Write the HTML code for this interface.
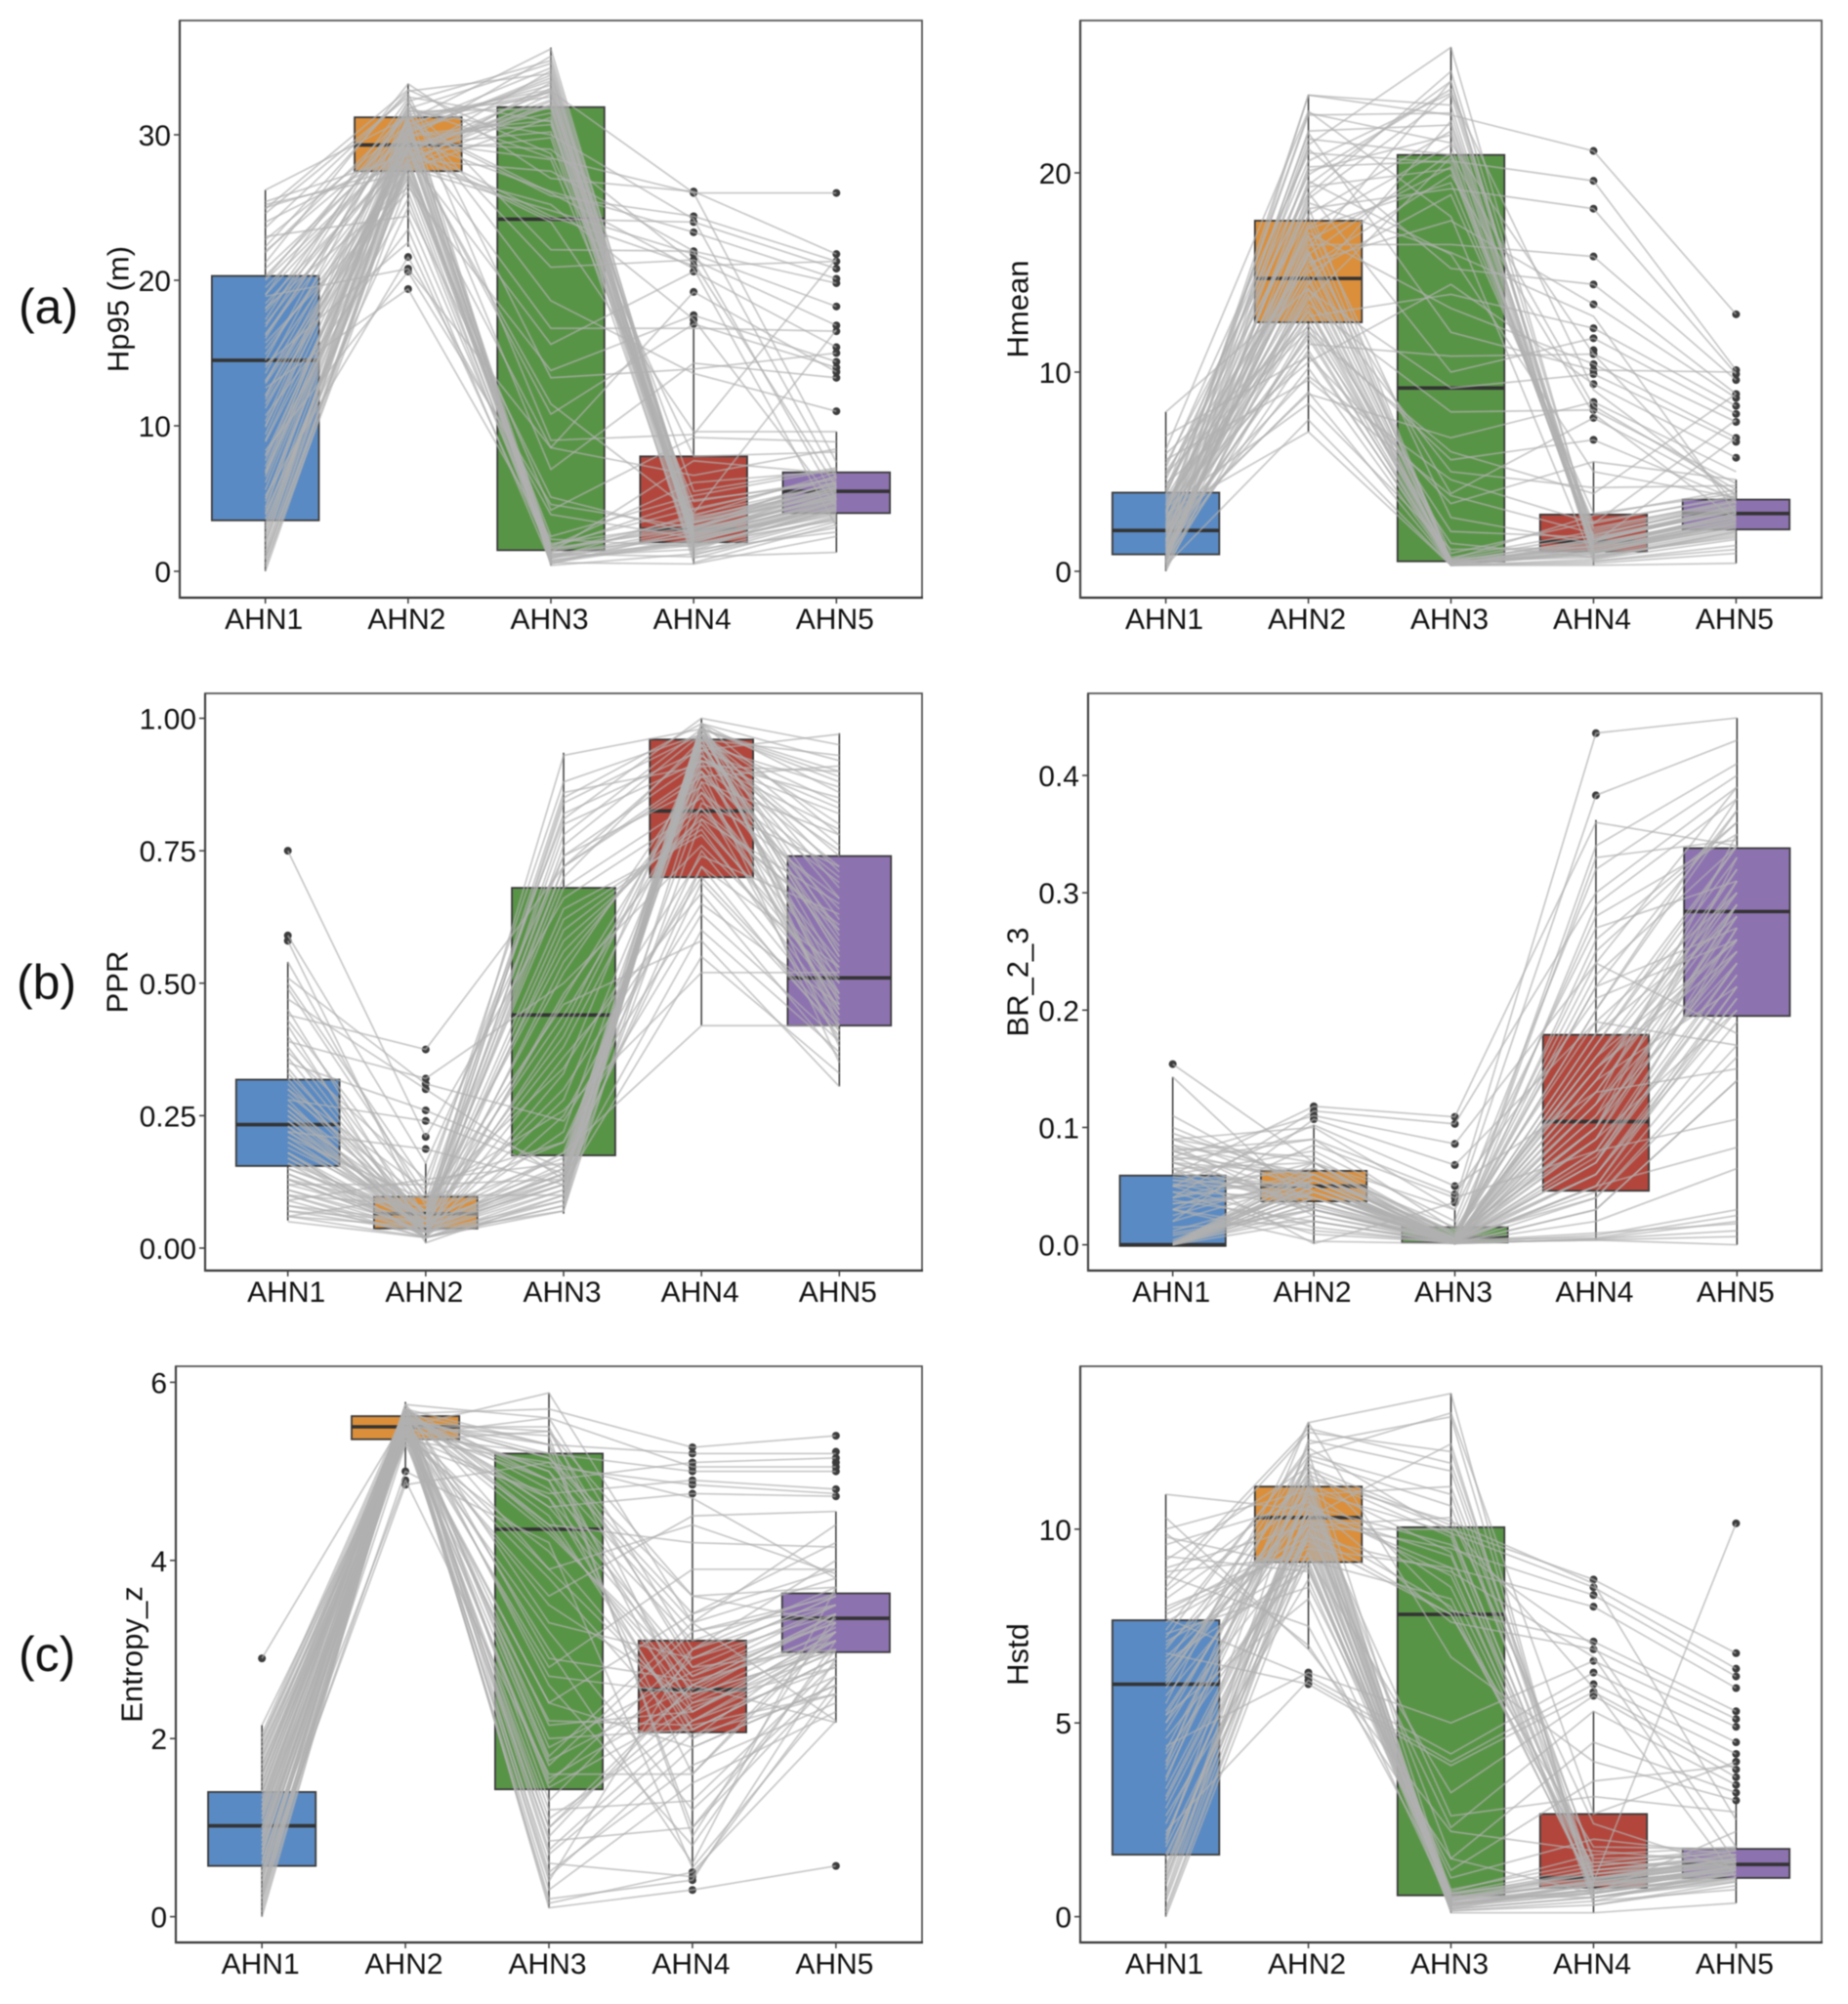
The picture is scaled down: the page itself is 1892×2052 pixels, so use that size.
<!DOCTYPE html>
<html lang="en">
<head>
<meta charset="utf-8">
<title>Boxplots of canopy metrics across AHN1 to AHN5</title>
<style>
html,body{margin:0;padding:0;background:#fff;}
#figure{display:block;width:1892px;height:2052px;font-family:"Liberation Sans",Arial,sans-serif;filter:blur(0.5px);}
</style>
</head>
<body>
<svg id="figure" xmlns="http://www.w3.org/2000/svg" width="1892" height="2052" viewBox="0 0 1892 2052">
<rect x="0" y="0" width="1892" height="2052" fill="#fff"/>
<text x="19" y="331" font-size="50" fill="#111">(a)</text>
<text x="17" y="1023" font-size="50" fill="#111">(b)</text>
<text x="19" y="1711" font-size="50" fill="#111">(c)</text>
</svg>
<script>
const categories = ["AHN1","AHN2","AHN3","AHN4","AHN5"];
const boxColors = ["#5a8ac3","#dc8f3a","#589446","#b2463c","#8d72b0"];

/* ---------- Hp95 ---------- */
const hp95Ticks = [0,10,20,30];
const hp95TickLabels = ["0","10","20","30"];
const hp95Q1 = [3.5,27.5,1.45,2.0,4.0];
const hp95Median = [14.5,29.3,24.2,2.9,5.5];
const hp95Q3 = [20.3,31.2,31.9,7.9,6.8];
const hp95WhiskerLow = [0,22.3,0.4,0.5,1.3];
const hp95WhiskerHigh = [26.2,33.5,36,16.7,9.6];
const hp95Outliers = [[],[19.4,20.6,20.8,21.6],[],[17,17.3,17.6,19.2,20.6,21,21.4,21.8,22,23.3,24,24.4,26,26.1],[11,13.3,13.7,14,14.4,15,15.4,16.5,16.9,18.2,19.8,20.1,20.8,21.3,21.8,26]];
const hp95Profiles = [
[0.3,28.5,33.2,2.6,5.1],[1.2,29.4,31.5,2.1,4.4],[2.4,30.6,34.6,3.3,5.8],[3.1,28.1,32.8,1.8,4.1],[4.4,31.0,35.9,2.9,6.2],
[5.6,29.9,30.7,2.4,5.3],[7.2,30.2,33.9,3.6,6.0],[8.9,27.8,32.1,2.0,4.7],[10.3,31.8,34.9,1.4,4.9],[12.1,29.0,31.9,4.2,6.5],
[14.5,32.3,35.1,2.7,5.5],[16.2,30.8,33.4,3.0,6.6],[18.4,28.7,29.8,1.1,3.7],[20.1,31.4,32.6,2.3,5.0],[22.3,33.0,34.2,3.8,6.8],
[24.6,32.6,30.9,2.6,5.7],[26.2,31.2,33.1,1.6,4.3],[19.5,29.6,28.3,4.8,6.3],[15.3,27.6,31.2,0.6,3.2],[11.2,28.9,32.4,5.5,7.1],
[6.5,30.1,34.1,3.4,5.2],[2.9,29.3,30.2,2.2,4.6],[0.8,27.9,33.6,1.9,3.9],[1.7,31.6,31.8,0.9,3.4],
[0.0,28.0,1.2,2.4,4.8],[0.5,26.8,0.8,1.8,4.0],[1.4,29.5,1.5,3.1,5.4],[2.1,30.4,0.6,2.0,4.5],[3.3,28.4,1.1,2.9,5.9],
[3.9,27.2,1.8,4.3,6.4],[4.8,31.2,0.4,1.2,3.0],[6.1,29.8,1.4,3.7,5.6],[7.9,25.6,0.9,2.5,5.2],[9.4,30.9,1.7,6.1,6.9],
[11.8,28.3,1.0,1.5,2.7],[13.6,32.0,0.5,2.8,5.0],[15.7,26.1,1.3,7.6,6.7],[17.8,29.1,1.9,3.3,5.7],[20.3,30.3,0.7,2.1,4.2],
[23.0,24.4,1.6,4.9,6.1],[25.2,27.4,2.4,5.2,7.0],[14.2,22.6,1.2,1.0,1.3],[10.7,23.5,0.6,0.5,2.4],[5.2,21.6,3.9,2.3,4.4],
[8.3,20.6,4.6,3.0,5.5],[12.6,19.4,2.2,1.7,3.6],[4.0,25.0,5.1,2.6,4.7],[18.9,20.8,8.5,6.6,8.4],
[16.8,31.9,28.4,26.0,26.0],[21.2,33.5,27.0,26.1,21.8],[22.8,30.7,25.8,24.4,21.3],[24.0,28.9,24.2,24.0,20.8],[19.0,29.7,26.1,23.3,20.1],
[17.3,32.2,22.1,22.0,19.8],[13.1,27.7,24.8,21.8,18.2],[9.9,31.3,20.9,21.4,16.9],[20.8,30.0,16.7,16.7,16.5],[25.4,28.6,15.6,20.6,15.4],
[23.6,32.8,13.3,13.9,15.0],[18.1,26.4,13.8,17.6,14.4],[14.9,29.2,10.8,17.0,14.0],[11.5,27.3,8.5,19.2,13.7],[7.6,30.5,7.0,14.3,13.3],
[21.9,31.5,18.6,13.6,11.0],[16.3,28.8,24.0,9.6,9.6],[12.9,27.0,4.2,9.2,8.9],[6.8,29.3,24.4,21.0,21.3],[24.9,33.1,28.7,7.9,8.2],
[1.0,28.2,32.3,2.4,4.9],[2.0,29.0,33.0,2.8,5.2],[3.6,30.0,31.0,3.1,5.6],[5.0,28.6,34.4,1.7,4.2],[6.9,31.1,32.9,2.2,4.8],
[9.0,29.7,35.4,3.5,6.1],[13.0,30.4,33.7,2.5,5.3],[17.0,29.2,32.0,1.3,3.8],[0.9,27.7,1.0,2.7,5.1],[2.6,29.1,0.7,2.2,4.3],
[4.2,30.7,1.3,3.4,5.8],[6.7,28.0,1.6,2.9,5.0],[10.0,29.4,0.9,3.9,6.0],[16.0,31.0,1.1,1.9,3.5],
[22.0,30.3,33.0,26.0,7.5],[18.0,31.7,30.0,24.2,6.4],[14.0,28.3,27.5,22.0,4.9],[20.0,29.5,29.0,21.2,5.8],[12.0,30.9,26.0,20.8,3.1],
[25.0,27.9,25.2,17.3,4.5],[8.0,29.1,11.5,4.0,16.6],[19.0,32.5,9.0,9.4,21.5]
];

/* ---------- Hmean ---------- */
const hmeanTicks = [0,10,20];
const hmeanTickLabels = ["0","10","20"];
const hmeanQ1 = [0.85,12.5,0.5,1.0,2.1];
const hmeanMedian = [2.05,14.7,9.2,1.5,2.9];
const hmeanQ3 = [3.95,17.6,20.9,2.85,3.6];
const hmeanWhiskerLow = [0,7,0.3,0.3,0.4];
const hmeanWhiskerHigh = [8,23.9,26.3,5.5,4.6];
const hmeanOutliers = [[],[],[],[6.6,7.7,8.1,8.3,8.5,9.4,9.9,10.1,10.4,10.9,11.1,11.7,12.2,13.4,14.4,15.8,18.2,19.6,21.1],[5.7,6.5,6.7,7.5,7.9,8.3,8.7,8.9,9.6,9.9,10.1,12.9]];
const hmeanProfiles = [
[0.0,14.6,0.4,1.2,2.9],[0.2,12.4,0.3,0.9,2.2],[0.4,16.8,0.5,1.5,3.1],[0.6,11.1,0.3,1.0,2.4],[0.7,13.3,0.4,1.3,2.7],
[0.9,15.2,0.6,1.8,3.4],[1.1,10.2,0.3,0.5,1.3],[1.3,13.9,0.4,1.1,2.6],[1.5,17.5,0.5,1.6,3.0],[1.7,12.7,0.7,2.0,3.5],
[1.9,9.0,0.3,0.4,0.9],[2.0,14.8,0.4,1.4,2.8],[2.3,11.7,0.5,0.8,2.1],[2.6,16.1,0.9,2.5,3.7],[2.9,7.0,0.3,0.6,1.6],
[3.2,8.4,1.1,1.2,2.3],[3.5,13.0,2.0,1.7,3.2],[3.9,18.3,0.4,1.0,2.5],[4.3,15.7,0.6,2.8,4.1],[4.9,12.1,1.4,0.7,1.9],
[5.6,9.6,3.8,1.9,3.3],[6.8,10.8,3.4,5.5,4.6],[8.0,14.2,5.0,4.2,4.3],[0.3,7.6,0.3,0.3,0.4],
[0.1,17.9,22.1,1.3,2.9],[0.5,19.4,24.6,0.9,2.4],[0.8,21.4,26.3,1.6,3.3],[1.0,15.9,21.0,1.1,2.6],[1.4,23.9,23.4,0.6,2.0],
[1.6,16.6,20.3,2.1,3.6],[1.8,18.7,23.9,1.4,2.7],[2.2,20.1,21.9,1.0,2.2],[2.5,14.4,22.6,1.7,3.0],[2.8,22.9,23.0,0.8,1.7],
[3.1,17.2,19.5,2.4,3.8],[3.4,13.6,20.8,1.2,2.8],[3.7,15.0,18.9,2.9,3.9],[4.6,19.9,24.2,1.5,3.2],[5.2,21.0,20.5,2.2,3.5],
[6.1,23.1,17.8,0.5,1.1],
[2.4,23.9,22.9,21.1,12.9],[1.2,20.3,20.6,19.6,10.1],[3.0,18.2,19.2,18.2,9.9],[0.7,16.4,16.4,15.8,9.6],[4.1,21.2,15.2,14.4,8.9],
[1.9,15.5,17.6,13.4,8.7],[2.7,12.8,13.9,12.2,8.3],[5.4,19.0,10.0,11.7,7.9],[1.6,11.4,10.8,10.9,7.5],[3.3,17.0,13.2,10.4,6.7],
[0.9,14.1,9.2,9.9,6.5],[4.4,10.5,14.4,9.4,5.7],[2.1,8.9,6.7,8.5,5.0],[3.6,13.4,8.0,8.1,4.4],[1.1,16.0,3.9,7.7,3.9],
[5.9,12.3,5.6,6.6,3.6],[2.3,22.0,12.0,10.1,10.0],[0.6,19.6,15.9,5.0,3.7],
[0.3,13.8,0.4,1.0,2.5],[0.8,15.9,0.5,1.6,3.1],[1.2,11.9,0.3,0.9,2.3],[1.6,14.2,0.4,1.3,2.9],[2.1,16.9,0.6,1.1,2.6],
[2.7,13.1,0.3,1.5,3.3],[3.3,10.9,0.5,0.7,1.8],[0.5,17.3,21.4,1.0,2.4],[1.3,18.9,25.1,1.8,3.5],[2.0,22.1,22.4,1.2,2.7],
[3.0,16.2,24.6,0.7,2.0],[4.0,19.3,20.2,1.6,3.1],
[1.5,21.7,20.9,8.3,4.1],[2.9,23.0,21.5,10.9,3.4],[0.4,18.5,16.0,12.8,2.9],[3.8,20.6,24.0,9.1,3.8],[5.0,15.3,19.9,7.9,2.6],
[1.0,12.0,6.0,3.9,8.9],[2.2,9.8,4.6,2.4,7.6],[4.8,17.8,2.7,1.4,6.7]
];

/* ---------- PPR ---------- */
const pprTicks = [0,0.25,0.5,0.75,1];
const pprTickLabels = ["0.00","0.25","0.50","0.75","1.00"];
const pprQ1 = [0.155,0.037,0.175,0.70,0.42];
const pprMedian = [0.233,0.065,0.44,0.825,0.51];
const pprQ3 = [0.318,0.097,0.68,0.96,0.74];
const pprWhiskerLow = [0.052,0.01,0.065,0.42,0.305];
const pprWhiskerHigh = [0.54,0.16,0.935,1.0,0.972];
const pprOutliers = [[0.58,0.59,0.75],[0.187,0.21,0.24,0.26,0.30,0.31,0.32,0.375],[],[],[]];
const pprProfiles = [
[.05,.02,.07,.99,.92],[.07,.03,.09,.98,.88],[.09,.02,.10,.97,.80],[.11,.04,.12,.99,.86],[.13,.03,.13,.96,.74],
[.15,.05,.14,.98,.62],[.17,.02,.11,.97,.55],[.19,.06,.15,.95,.50],[.21,.04,.16,.99,.42],[.23,.03,.12,.96,.48],
[.25,.07,.17,.94,.38],[.28,.02,.08,.98,.46],[.31,.05,.14,.92,.44],[.34,.03,.18,.90,.35],[.38,.04,.13,.97,.52],[.42,.01,.10,.95,.58],
[.06,.04,.22,.94,.97],[.08,.03,.28,.91,.90],[.10,.02,.33,.96,.84],[.12,.05,.38,.88,.78],[.14,.03,.42,.93,.72],
[.16,.06,.44,.86,.66],[.18,.02,.48,.82,.61],[.20,.04,.52,.90,.57],[.22,.07,.56,.83,.53],[.24,.03,.60,.80,.51],
[.26,.05,.64,.78,.47],[.29,.09,.20,.75,.43],[.32,.02,.25,.72,.40],[.36,.04,.30,.70,.42],[.40,.06,.68,.85,.39],
[.45,.03,.36,.67,.36],[.54,.08,.46,.58,.305],[.49,.10,.26,.52,.52],[.58,.05,.18,.42,.42],
[.08,.05,.70,.96,.93],[.10,.08,.74,.92,.85],[.13,.03,.76,.97,.76],[.15,.06,.78,.98,.68],[.18,.04,.72,.89,.91],
[.21,.09,.82,.94,.83],[.24,.05,.85,.99,.59],[.27,.07,.86,.91,.70],[.30,.11,.88,.97,.55],[.33,.06,.93,.98,.89],
[.37,.13,.81,1.0,.95],[.59,.16,.74,.87,.45],[.75,.21,.66,.83,.60],
[.44,.375,.72,.90,.64],[.39,.32,.50,.76,.50],[.51,.31,.24,.65,.46],[.47,.30,.13,.60,.37],[.35,.26,.15,.69,.41],
[.28,.24,.14,.72,.53],[.22,.187,.12,.55,.33],[.12,.12,.13,.84,.72],[.06,.10,.10,.81,.65],[.09,.13,.16,.93,.75],
[.06,.02,.08,.98,.90],[.10,.03,.11,.99,.78],[.14,.04,.14,.97,.66],[.18,.02,.09,.98,.56],[.22,.05,.13,.96,.47],
[.26,.03,.15,.99,.41],[.30,.04,.12,.95,.60],[.07,.05,.40,.92,.82],[.11,.03,.47,.89,.69],[.16,.02,.54,.86,.54],
[.20,.06,.58,.81,.48],[.25,.04,.62,.79,.44],[.13,.07,.72,.95,.87],[.17,.04,.80,.92,.79],[.23,.06,.84,.97,.71],
[.43,.09,.34,.74,.63],[.50,.12,.20,.63,.39],[.27,.03,.07,.88,.45]
];

/* ---------- BR_2_3 ---------- */
const brTicks = [0,0.1,0.2,0.3,0.4];
const brTickLabels = ["0.0","0.1","0.2","0.3","0.4"];
const brQ1 = [-0.001,0.037,0.002,0.046,0.195];
const brMedian = [0.0,0.05,0.006,0.105,0.284];
const brQ3 = [0.059,0.063,0.015,0.179,0.338];
const brWhiskerLow = [0,0.001,0,0.004,0];
const brWhiskerHigh = [0.143,0.102,0.03,0.362,0.449];
const brOutliers = [[0.154],[0.107,0.11,0.114,0.118],[0.036,0.04,0.043,0.05,0.068,0.086,0.103,0.109],[0.383,0.436],[]];
const brProfiles = [
[0,.05,.003,.10,.28],[0,.04,.002,.05,.22],[0,.06,.004,.14,.31],[0,.03,.002,.08,.26],[0,.055,.003,.18,.34],
[0,.045,.001,.12,.25],[0,.035,.005,.06,.20],[0,.065,.006,.16,.30],[0,.02,.001,.04,.17],[0,.05,.002,.09,.27],
[0,.07,.008,.22,.37],[0,.04,.003,.11,.24],[.001,.025,.001,.03,.14],[.002,.06,.004,.13,.29],[.004,.05,.003,.07,.23],
[.008,.03,.002,.17,.33],[.012,.045,.007,.20,.38],[.02,.055,.012,.15,.26],[.03,.012,.002,.004,.007],[.035,.05,.003,.10,.29],
[.038,.02,.001,.005,.02],[.04,.06,.010,.25,.36],[.045,.04,.004,.045,.19],[.05,.065,.015,.28,.35],[.052,.03,.002,.008,.03],
[.055,.05,.006,.12,.28],[.06,.08,.020,.32,.40],[.065,.07,.004,.16,.32],[.07,.04,.003,.06,.21],[.072,.09,.013,.19,.30],
[.075,.03,.001,.005,.012],[.08,.05,.005,.23,.34],[.082,.075,.008,.10,.25],[.085,.06,.003,.14,.22],[.09,.10,.030,.27,.31],
[.095,.055,.002,.07,.24],[.11,.045,.006,.04,.16],[.143,.03,.004,.006,.025],[.154,.07,.010,.09,.20],
[.06,.118,.109,.36,.34],[.04,.114,.103,.30,.39],[.075,.11,.086,.24,.18],[.02,.107,.068,.19,.17],[.05,.102,.05,.13,.15],
[.08,.09,.043,.21,.26],[.03,.085,.04,.08,.107],[.065,.001,.036,.436,.449],[.09,.07,.03,.383,.43],[.10,.05,.001,.34,.41],
[.07,.033,.002,.29,.38],[.058,.04,.003,.26,.36],[.03,.003,.001,.05,.083],[.045,.009,.002,.004,.0],[.015,.02,.002,.02,.065],
[.05,.015,.001,.03,.14],[.085,.025,.003,.01,.018],[.025,.06,.005,.15,.29],[.035,.045,.002,.075,.23],
[0,.05,.002,.13,.30],[0,.045,.003,.07,.27],[0,.055,.001,.10,.33],[0,.035,.002,.15,.25],[0,.06,.004,.09,.29],
[.001,.04,.002,.12,.35],[.002,.05,.003,.18,.28],[.01,.03,.001,.06,.22],[.06,.05,.004,.11,.31],[.07,.06,.002,.16,.26],
[.08,.04,.003,.08,.24],[.05,.05,.006,.20,.37],[.04,.07,.002,.14,.32],[.09,.045,.005,.22,.27],[.065,.03,.003,.05,.21],
[.03,.055,.002,.17,.34],[.075,.06,.008,.24,.39],[.055,.04,.001,.33,.345]
];

/* ---------- Entropy_z ---------- */
const entropyTicks = [0,2,4,6];
const entropyTickLabels = ["0","2","4","6"];
const entropyQ1 = [0.57,5.36,1.43,2.07,2.97];
const entropyMedian = [1.02,5.5,4.35,2.55,3.35];
const entropyQ3 = [1.4,5.62,5.2,3.1,3.63];
const entropyWhiskerLow = [0,5.0,0.1,0.55,2.18];
const entropyWhiskerHigh = [2.15,5.78,5.88,4.7,4.55];
const entropyOutliers = [[2.9],[4.85,4.9,5.0],[],[0.3,0.41,0.45,0.5,4.75,4.85,4.9,5.0,5.05,5.1,5.2,5.27],[0.57,4.72,4.8,5.0,5.05,5.1,5.15,5.22,5.4]];
const entropyProfiles = [
[0,5.6,4.9,2.5,3.4],[.1,5.7,5.3,2.9,3.6],[.2,5.5,5.5,2.3,3.2],[.3,5.65,4.6,2.7,3.3],[.4,5.75,5.6,3.0,3.7],
[.5,5.4,5.2,2.1,2.9],[.55,5.6,5.0,2.6,3.4],[.6,5.5,5.88,3.3,3.8],[.7,5.7,4.4,2.4,3.1],[.75,5.35,4.1,2.2,3.0],
[.8,5.55,5.45,2.8,3.5],[.85,5.65,4.8,3.1,3.63],[.9,5.45,3.8,2.0,2.7],[.95,5.7,4.35,2.55,3.35],[1.0,5.5,3.5,2.45,3.25],
[1.05,5.6,5.15,3.4,3.9],[1.1,5.75,2.9,2.65,3.1],[1.15,5.4,2.4,1.9,2.6],[1.2,5.55,2.15,2.3,3.2],[1.25,5.65,1.9,2.75,3.3],
[1.3,5.5,1.7,3.2,3.5],[1.35,5.45,1.55,2.5,3.0],[1.4,5.6,1.45,2.35,2.97],[1.45,5.7,1.3,2.9,3.6],[1.5,5.5,1.1,2.2,2.8],
[1.55,5.35,.9,2.6,3.4],[1.6,5.6,.7,2.05,2.5],[1.65,5.7,.5,1.7,2.4],[1.7,5.45,.3,1.5,2.3],[1.75,5.55,.15,.5,2.2],
[1.8,5.65,.1,.3,.57],[1.85,5.5,.2,.41,2.9],[1.9,5.4,.6,.45,2.6],[1.95,5.6,.85,1.0,3.0],[2.0,5.5,1.2,1.3,2.85],
[2.05,5.7,2.6,.8,3.1],[2.15,5.45,3.2,1.2,2.7],[2.9,5.6,4.7,2.0,3.2],[.35,5.0,4.2,.55,2.5],[.65,4.9,1.6,1.6,3.3],[.45,4.85,5.1,4.7,3.8],
[.25,5.65,5.7,5.27,5.4],[.5,5.55,5.3,5.2,5.2],[.8,5.7,4.9,5.1,5.15],[1.1,5.4,5.6,5.05,5.05],[1.4,5.6,5.2,5.0,5.0],
[1.7,5.3,4.75,4.9,4.8],[.9,5.5,5.05,4.85,4.75],[1.25,5.7,4.6,4.75,4.72],[.6,5.45,3.6,4.5,4.55],[1.5,5.6,4.4,4.2,4.15],
[.95,5.5,2.8,3.9,3.9],[1.8,5.35,5.45,3.6,3.7],[.15,5.65,1.8,3.3,4.4],[1.2,5.75,3.9,4.4,3.85],[.7,5.55,.4,3.0,4.0],
[1.6,5.4,1.0,2.6,2.18],[.4,5.3,2.2,2.15,2.5],
[.05,5.6,4.3,2.7,3.5],[.25,5.5,3.9,2.3,3.1],[.45,5.7,3.3,2.9,3.4],[.7,5.6,2.7,2.5,3.0],[.85,5.5,2.0,2.1,2.9],
[1.0,5.65,1.75,2.6,3.2],[1.2,5.45,1.5,3.0,3.5],[1.4,5.6,1.0,2.4,2.8],[1.6,5.7,.75,2.2,3.1],[1.9,5.5,.45,1.9,2.6],
[.3,5.6,5.15,3.6,3.3],[.6,5.55,5.0,3.2,3.6],[.9,5.4,4.7,2.8,3.0],[1.3,5.7,4.5,2.1,2.9],[1.6,5.5,4.9,1.6,3.2],
[2.0,5.65,5.3,1.0,2.7],[.2,5.5,5.4,.9,3.4],[.5,5.6,3.0,.6,3.7],[1.15,5.35,5.1,3.3,2.2],[.75,5.45,2.4,3.4,4.2]
];

/* ---------- Hstd ---------- */
const hstdTicks = [0,5,10];
const hstdTickLabels = ["0","5","10"];
const hstdQ1 = [1.6,9.15,0.55,0.75,1.0];
const hstdMedian = [6.0,10.3,7.8,1.0,1.35];
const hstdQ3 = [7.65,11.1,10.05,2.65,1.75];
const hstdWhiskerLow = [0,6.9,0.1,0.1,0.35];
const hstdWhiskerHigh = [10.9,12.75,13.5,5.3,3.0];
const hstdOutliers = [[],[6.0,6.1,6.2,6.3],[],[5.7,5.8,6.0,6.3,6.6,6.9,7.1,8.0,8.3,8.5,8.7],[3.0,3.2,3.4,3.6,3.8,4.0,4.2,4.5,4.9,5.1,5.3,5.9,6.2,6.4,6.8,10.15]];
const hstdProfiles = [
[0,9.5,.3,.7,1.2],[.4,10.2,.5,.9,1.4],[.8,11.0,.2,.5,1.0],[1.0,9.8,.4,.8,1.3],[1.3,10.5,.6,1.1,1.6],
[1.6,9.2,.15,.4,.7],[2.0,10.9,.35,.8,1.2],[2.6,8.7,.5,1.0,1.5],[3.1,10.3,.25,.6,1.1],[3.6,11.3,.45,.9,1.35],
[4.2,9.4,.6,1.3,1.7],[4.8,10.7,.1,.1,.35],[5.2,8.2,.3,.7,1.3],[5.7,10.1,.7,1.4,1.75],[6.1,11.6,.2,.5,.9],
[6.6,9.0,.5,.85,1.25],[7.0,10.4,.35,.65,1.0],[7.4,12.0,.55,1.2,1.5],[7.8,9.6,.15,.3,.8],[8.2,10.8,.4,.95,1.4],
[8.8,7.5,.65,1.6,1.8],[9.3,8.9,1.0,2.0,1.6],[9.9,7.0,1.5,.6,1.1],[10.3,6.9,2.2,1.7,1.4],
[.2,10.0,10.0,.8,1.3],[.6,11.2,9.4,.6,1.1],[1.2,10.6,8.8,1.0,1.5],[1.9,12.3,11.5,.9,1.35],[2.4,9.9,7.8,1.3,1.7],
[3.3,10.3,12.2,.5,1.0],[4.0,11.8,10.6,1.1,1.4],[4.6,9.2,8.2,.7,1.2],[5.5,12.75,13.5,.3,.9],[6.3,10.9,11.1,1.5,1.6],
[6.9,11.4,9.8,.4,1.2],[7.6,9.7,7.8,1.8,1.75],[8.5,12.5,12.0,1.0,1.3],[9.0,10.1,10.3,2.4,1.2],[10.0,11.0,8.5,.95,1.5],[10.9,10.5,9.0,.6,2.2],
[5.0,11.5,10.0,8.7,6.8],[7.2,12.1,9.9,8.5,6.4],[3.0,10.2,9.5,8.3,6.2],[8.0,9.5,9.0,8.0,5.9],[6.0,11.7,7.9,7.1,5.3],
[9.6,10.7,7.6,6.9,5.1],[4.4,6.3,5.0,6.6,4.9],[7.7,6.2,4.2,6.3,4.5],[2.2,6.1,4.0,6.0,4.2],[6.8,6.0,3.9,5.8,3.8],
[8.9,9.3,3.2,5.7,3.6],[1.5,10.0,2.3,5.3,3.4],[5.9,11.1,1.5,4.5,3.2],[3.9,12.75,6.7,4.0,3.0],[9.8,9.0,.45,.9,10.15],
[7.3,8.5,1.2,3.5,3.9],[5.3,10.8,2.6,3.1,2.7],[6.5,11.9,13.0,2.65,4.0],
[.1,9.9,.3,.8,1.1],[.5,10.6,.45,.6,1.3],[1.1,11.1,.25,.9,1.2],[1.8,9.4,.5,1.1,1.45],[2.8,10.0,.35,.7,1.0],
[3.8,11.4,.4,1.2,1.55],[5.0,9.7,.55,.5,.95],[6.4,10.4,.2,.85,1.25],[7.1,9.1,.6,1.0,1.4],[8.4,11.2,.3,.6,1.15],
[.9,11.9,10.9,.7,1.3],[2.1,10.5,9.3,1.2,1.6],[3.5,12.2,12.9,.5,1.1],[5.2,11.0,9.9,1.0,1.45],[6.7,10.1,8.0,.8,1.2],[8.7,12.6,11.7,1.4,1.3],
[4.3,11.3,10.2,8.6,2.5],[6.2,10.6,9.6,7.0,1.8],[7.9,9.8,8.9,6.7,1.4],[9.2,11.6,10.1,5.9,1.0]
];

/* ---------- Panel layout (frame in pixels; y-axis mapped through two anchors) ---------- */
const panels = [
 {id:"hp95", title:"Hp95 (m)", titleX:121, left:184, right:944, top:21, bottom:612, v0:0, y0:585, v1:30, y1:138,
  ticks:hp95Ticks, tickLabels:hp95TickLabels, q1:hp95Q1, median:hp95Median, q3:hp95Q3, low:hp95WhiskerLow, high:hp95WhiskerHigh, outliers:hp95Outliers, profiles:hp95Profiles},
 {id:"hmean", title:"Hmean", titleX:1042, left:1106, right:1865, top:21, bottom:612, v0:0, y0:585, v1:20, y1:177,
  ticks:hmeanTicks, tickLabels:hmeanTickLabels, q1:hmeanQ1, median:hmeanMedian, q3:hmeanQ3, low:hmeanWhiskerLow, high:hmeanWhiskerHigh, outliers:hmeanOutliers, profiles:hmeanProfiles},
 {id:"ppr", title:"PPR", titleX:120, left:210, right:944, top:710, bottom:1301, v0:0, y0:1278, v1:1, y1:735.5,
  ticks:pprTicks, tickLabels:pprTickLabels, q1:pprQ1, median:pprMedian, q3:pprQ3, low:pprWhiskerLow, high:pprWhiskerHigh, outliers:pprOutliers, profiles:pprProfiles},
 {id:"br23", title:"BR_2_3", titleX:1042, left:1114, right:1865, top:710, bottom:1301, v0:0, y0:1274.6, v1:0.4, y1:794,
  ticks:brTicks, tickLabels:brTickLabels, q1:brQ1, median:brMedian, q3:brQ3, low:brWhiskerLow, high:brWhiskerHigh, outliers:brOutliers, profiles:brProfiles},
 {id:"entropy", title:"Entropy_z", titleX:135, left:180, right:944, top:1399, bottom:1989, v0:0, y0:1962.6, v1:6, y1:1415.4,
  ticks:entropyTicks, tickLabels:entropyTickLabels, q1:entropyQ1, median:entropyMedian, q3:entropyQ3, low:entropyWhiskerLow, high:entropyWhiskerHigh, outliers:entropyOutliers, profiles:entropyProfiles},
 {id:"hstd", title:"Hstd", titleX:1042, left:1106, right:1865, top:1399, bottom:1989, v0:0, y0:1962.6, v1:10, y1:1565.8,
  ticks:hstdTicks, tickLabels:hstdTickLabels, q1:hstdQ1, median:hstdMedian, q3:hstdQ3, low:hstdWhiskerLow, high:hstdWhiskerHigh, outliers:hstdOutliers, profiles:hstdProfiles}
];

const NS = "http://www.w3.org/2000/svg";
const root = document.getElementById("figure");

function make(tag, attrs, parent){
  const node = document.createElementNS(NS, tag);
  for (const k in attrs) node.setAttribute(k, attrs[k]);
  parent.appendChild(node);
  return node;
}

function drawPanel(p){
  const band = (p.right - p.left) / 5.2;
  const boxW = band * 0.75;
  const xScale = i => p.left + (0.6 + i) * band;
  const yScale = v => p.y0 + (v - p.v0) * (p.y1 - p.y0) / (p.v1 - p.v0);

  const g = make("g", {}, root);
  
  

  const bg = make("rect", {x:p.left, y:p.top, width:p.right-p.left, height:p.bottom-p.top, fill:"#fff"}, g);
  
  

  categories.forEach((cat, i) => {
    const x = xScale(i);
    const whisker = make("line", {x1:x, x2:x, y1:yScale(p.low[i]), y2:yScale(p.high[i]), stroke:"#444", "stroke-width":1.6}, g);
    
    

    const yTop = yScale(p.q3[i]);
    const yBottom = yScale(p.q1[i]);
    const box = make("rect", {x:x-boxW/2, y:yTop, width:boxW, height:yBottom-yTop, fill:boxColors[i], stroke:"#3a3a3a", "stroke-width":1.8}, g);
    
    

    const med = make("line", {x1:x-boxW/2, x2:x+boxW/2, y1:yScale(p.median[i]), y2:yScale(p.median[i]), stroke:"#333", "stroke-width":3.6}, g);
    
    

    p.outliers[i].forEach(v => {
      const dot = make("circle", {cx:x, cy:yScale(v), r:4, fill:"#3c3c3c"}, g);
      
      
    });
  });

  p.profiles.forEach(row => {
    const pts = row.map((v, i) => xScale(i).toFixed(1) + "," + yScale(v).toFixed(1)).join(" ");
    const line = make("polyline", {points:pts, fill:"none", stroke:"#b0b0b0", "stroke-opacity":0.66, "stroke-width":1.8, "stroke-linejoin":"round"}, g);
    
    
  });

  const frame = make("rect", {x:p.left, y:p.top, width:p.right-p.left, height:p.bottom-p.top, fill:"none", stroke:"#555", "stroke-width":1.8}, g);
  
  

  const xAxis = make("line", {x1:p.left-1, x2:p.right+1, y1:p.bottom, y2:p.bottom, stroke:"#333", "stroke-width":2.2}, g);
  
  

  const yAxis = make("line", {x1:p.left, x2:p.left, y1:p.top, y2:p.bottom+1, stroke:"#444", "stroke-width":2.2}, g);
  
  

  categories.forEach((cat, i) => {
    const x = xScale(i);
    const tick = make("line", {x1:x, x2:x, y1:p.bottom, y2:p.bottom+6, stroke:"#444", "stroke-width":1.6}, g);
    
    

    const label = make("text", {x:x-1.5, y:p.bottom+32, "text-anchor":"middle", "font-size":30, fill:"#111"}, g);
    label.textContent = cat;
    
    
  });

  p.ticks.forEach((v, i) => {
    const y = yScale(v);
    const tick = make("line", {x1:p.left-6, x2:p.left, y1:y, y2:y, stroke:"#444", "stroke-width":1.6}, g);
    
    

    const label = make("text", {x:p.left-9, y:y+11, "text-anchor":"end", "font-size":30, fill:"#111"}, g);
    label.textContent = p.tickLabels[i];
    
    
  });

  const cy = (p.top + p.bottom) / 2;
  const title = make("text", {x:p.titleX, y:cy, "text-anchor":"middle", "font-size":31, fill:"#111", transform:"rotate(-90 " + p.titleX + " " + cy + ")", "dominant-baseline":"central"}, g);
  title.textContent = p.title;
  
  
}

panels.forEach(drawPanel);
</script>
</body>
</html>
